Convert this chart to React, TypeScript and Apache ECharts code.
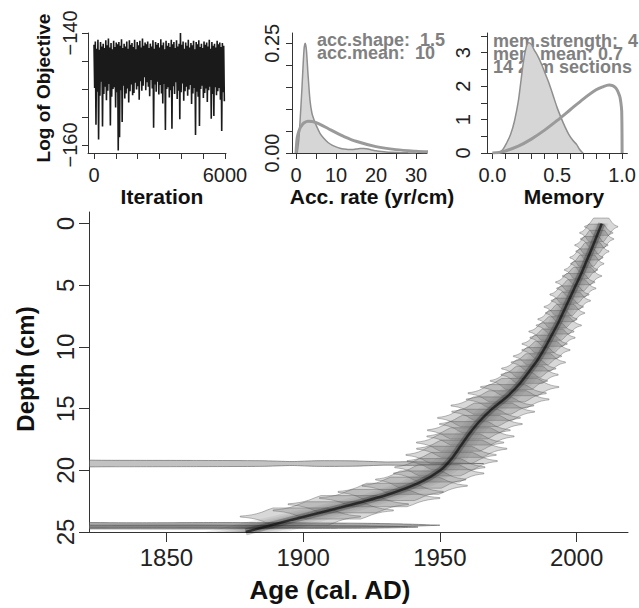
import React, { useEffect, useRef } from "react";
import * as echarts from "echarts";

// ---------- Panel 1: MCMC trace (log of objective), one value every 30 iterations ----------
const traceStep = 30;
const traceValues = [
  -142.1, -149.8, -141.5, -156.4, -142.8, -150.5, -141.2, -159.0, -143.0, -151.2,
  -141.6, -148.7, -142.4, -156.7, -141.9, -150.9, -142.7, -149.6, -141.3, -152.0,
  -142.2, -150.3, -141.0, -149.1, -142.6, -156.5, -141.8, -151.4, -142.9, -150.0,
  -141.4, -149.7, -142.5, -153.3, -141.7, -150.6, -142.0, -161.0, -141.6, -158.6,
  -142.3, -150.2, -141.1, -155.9, -142.7, -149.4, -141.9, -151.7, -142.4, -150.8,
  -141.5, -149.9, -142.8, -152.4, -141.3, -150.4, -142.1, -149.2, -141.8, -151.1,
  -142.5, -150.7, -141.2, -148.9, -142.9, -150.1, -141.6, -149.5, -142.2, -151.9,
  -141.4, -148.6, -142.6, -150.3, -141.0, -149.4, -142.3, -147.9, -141.7, -150.2,
  -142.0, -148.8, -141.5, -149.6, -142.7, -151.3, -141.9, -148.4, -142.4, -149.9,
  -141.3, -156.9, -142.8, -149.2, -141.6, -150.5, -142.1, -148.7, -141.8, -151.0,
  -142.6, -149.3, -141.1, -150.8, -142.2, -152.6, -141.7, -149.1, -142.9, -157.3,
  -141.4, -150.0, -142.3, -149.7, -141.8, -151.5, -142.5, -150.2, -141.2, -157.1,
  -142.0, -149.5, -141.6, -150.9, -142.7, -148.8, -141.3, -151.8, -142.4, -150.3,
  -141.9, -155.4, -140.0, -150.6, -142.1, -149.0, -141.5, -152.1, -142.8, -150.4,
  -141.7, -149.6, -142.3, -151.2, -141.2, -150.1, -142.6, -149.3, -141.8, -152.7,
  -142.2, -150.8, -141.4, -149.8, -142.9, -158.2, -141.6, -150.5, -142.0, -151.4,
  -141.3, -156.6, -142.5, -150.0, -141.9, -149.4, -142.7, -151.6, -141.5, -150.7,
  -142.1, -149.9, -141.7, -152.3, -142.4, -150.2, -141.2, -149.6, -142.8, -155.3,
  -141.6, -150.9, -142.3, -154.8, -141.9, -149.7, -142.6, -151.1, -141.4, -150.4,
  -142.0, -149.8, -141.7, -151.9, -142.5, -157.5, -141.8, -150.6, -142.3, -152.2,
];
const traceXTicks = [0, 1000, 2000, 3000, 4000, 5000, 6000];
const traceXLabels = [0, 6000];
const traceYTicks = [-160, -155, -150, -145, -140];
const traceYLabels = [-160, -140];

// ---------- Panel 2: accumulation rate ----------
const accPostX = [0.3, 0.7, 1, 1.5, 2, 2.3, 2.6, 3, 3.5, 4, 4.5, 5, 6, 7, 8, 9, 10, 11, 12, 13, 14, 15, 16, 17, 18, 19, 20, 22, 24, 26, 28, 30];
const accPostY = [0, 0.03, 0.07, 0.15, 0.235, 0.25, 0.235, 0.18, 0.12, 0.09, 0.076, 0.064, 0.045, 0.033, 0.024, 0.018, 0.014, 0.011, 0.009, 0.008, 0.008, 0.009, 0.01, 0.01, 0.009, 0.007, 0.005, 0.003, 0.0015, 0.0008, 0.0003, 0];
const accPriorX = [0, 0.25, 0.5, 1, 1.5, 2, 3, 4, 5, 6, 8, 10, 12, 15, 20, 25, 30, 33];
const accPriorY = [0, 0.031, 0.043, 0.0564, 0.0638, 0.0687, 0.0724, 0.072, 0.0692, 0.0653, 0.0559, 0.0463, 0.0375, 0.0268, 0.0146, 0.0077, 0.004, 0.0027];
const accXTicks = [0, 5, 10, 15, 20, 25, 30];
const accXLabels = [0, 10, 20, 30];
const accYTicks = [0, 0.05, 0.1, 0.15, 0.2, 0.25];
const accYLabels = [0, 0.25];
const accShape = 1.5;
const accMean = 10;

// ---------- Panel 3: memory ----------
const memPostX = [0.05, 0.08, 0.11, 0.14, 0.17, 0.2, 0.22, 0.24, 0.26, 0.28, 0.3, 0.32, 0.35, 0.38, 0.41, 0.44, 0.47, 0.5, 0.53, 0.56, 0.59, 0.62, 0.65, 0.67, 0.69, 0.7];
const memPostY = [0, 0.1, 0.3, 0.55, 0.95, 1.55, 2.15, 2.75, 3.15, 3.3, 3.25, 3.1, 2.9, 2.65, 2.35, 2.05, 1.7, 1.35, 1.05, 0.78, 0.55, 0.38, 0.25, 0.12, 0.03, 0];
const memPriorX = [0, 0.05, 0.1, 0.2, 0.3, 0.4, 0.5, 0.6, 0.7, 0.8, 0.85, 0.9, 0.95, 0.98, 0.99, 0.997, 1.0];
const memPriorY = [0, 0.018, 0.06, 0.206, 0.416, 0.676, 0.974, 1.294, 1.613, 1.89, 1.98, 2.034, 1.952, 1.718, 1.523, 1.25, 0];
const memXTicks = [0, 0.1, 0.2, 0.3, 0.4, 0.5, 0.6, 0.7, 0.8, 0.9, 1.0];
const memXLabels = [0, 0.5, 1.0];
const memYTicks = [0, 0.5, 1, 1.5, 2, 2.5, 3, 3.5];
const memYLabels = [0, 1, 2, 3];
const memStrength = 4;
const memMean = 0.7;
const sections = 14;
const sectionThick = 2;

// ---------- Main panel: age-depth model ----------
const modelDepth = [0, 1, 2, 3, 4, 5, 6, 7, 8, 9, 10, 11, 12, 13, 14, 15, 16, 17, 18, 19, 20, 21, 22, 23, 24, 25];
const modelMean = [2009.2, 2007.4, 2005.6, 2003.7, 2001.8, 1999.7, 1997.6, 1995.5, 1993.4, 1991.0, 1988.6, 1985.9, 1982.6, 1979.1, 1974.7, 1969.2, 1964.6, 1960.9, 1957.7, 1954.5, 1950.2, 1942.5, 1930.5, 1914.0, 1896.0, 1879.0];
const modelSpread = [2.5, 2.6, 2.7, 2.8, 3.0, 3.2, 3.4, 3.6, 3.8, 4.0, 4.2, 4.4, 4.6, 4.8, 5.0, 5.2, 5.2, 5.2, 5.4, 5.8, 6.5, 7.5, 9.0, 11.0, 13.0, 15.0];

const dateDepth = [0.25, 0.75, 1.25, 1.75, 2.25, 2.75, 3.25, 3.75, 4.25, 4.75, 5.25, 5.75, 6.25, 6.75, 7.25, 7.75, 8.25, 8.75, 9.25, 9.75, 10.25, 10.75, 11.25, 11.75, 12.25, 12.75, 13.25, 13.75, 14.25, 14.75, 15.25, 15.75, 16.25, 16.75, 17.25, 17.75, 18.25, 18.75, 19.25, 19.75, 20.25, 20.75, 21.25, 21.75, 22.25, 22.75, 23.25, 23.75];
const dateAge = [2009.0, 2007.2, 2007.5, 2005.4, 2005.8, 2003.6, 2003.9, 2001.6, 2002.0, 1999.5, 1999.9, 1997.4, 1997.9, 1995.3, 1995.8, 1993.0, 1993.5, 1990.8, 1991.2, 1988.3, 1988.8, 1985.7, 1986.0, 1982.5, 1982.8, 1978.9, 1979.2, 1974.6, 1974.8, 1969.2, 1969.5, 1964.3, 1965.0, 1960.6, 1961.2, 1957.4, 1958.0, 1954.1, 1954.5, 1950.0, 1949.6, 1943.0, 1940.8, 1932.0, 1928.0, 1916.5, 1911.0, 1899.0];
const dateSd = [2.2, 2.2, 2.2, 2.2, 2.2, 2.2, 2.2, 2.2, 2.6, 2.6, 2.6, 2.6, 2.6, 2.6, 2.6, 2.6, 3.0, 3.0, 3.0, 3.0, 3.2, 3.2, 3.6, 3.6, 3.8, 3.8, 5.2, 5.2, 5.5, 5.5, 5.5, 5.5, 5.5, 5.5, 5.8, 5.8, 6.0, 6.0, 6.0, 6.0, 6.0, 6.0, 7.0, 7.0, 8.0, 8.0, 8.0, 8.0];

// long, flat date distributions (outliers) drawn as bands
const band19Depth = 19.45;
const band19Ages = [1790, 1830, 1860, 1885, 1896, 1905, 1918, 1930, 1940, 1950, 1958, 1966];
const band19Half = [0.26, 0.26, 0.25, 0.23, 0.16, 0.23, 0.22, 0.13, 0.15, 0.08, 0.03, 0.0];
const band24aDepth = 24.45;
const band24aAges = [1790, 1840, 1870, 1890, 1910, 1925, 1940, 1950];
const band24aHalf = [0.2, 0.2, 0.22, 0.2, 0.18, 0.15, 0.08, 0.0];
const band24bDepth = 24.6;
const band24bAges = [1790, 1830, 1860, 1880, 1900, 1920, 1935, 1942];
const band24bHalf = [0.12, 0.15, 0.16, 0.14, 0.12, 0.1, 0.05, 0.0];

const mainXTicks = [1850, 1900, 1950, 2000];
const mainYTicks = [0, 5, 10, 15, 20, 25];

// ---------- styling ----------
const FONT = "'Liberation Sans', Arial, Helvetica, sans-serif";
const AX = "#333";
const GRAYTXT = "#808080";

function valueAxis(grid: number, min: number, max: number, ticks: number[], labels: number[], opts: any = {}) {
  return {
    type: "value",
    gridIndex: grid,
    min,
    max,
    inverse: !!opts.inverse,
    axisLine: { show: true, onZero: false, lineStyle: { color: AX, width: 1 } },
    axisTick: { show: true, length: opts.tickLen ?? 6, customValues: ticks, lineStyle: { color: AX, width: 1 } },
    axisLabel: {
      show: true,
      customValues: labels,
      fontSize: opts.fontSize ?? 20,
      fontFamily: FONT,
      color: "#222",
      margin: opts.margin ?? 10,
      rotate: opts.rotate ?? 0,
      formatter: opts.formatter ?? ((v: number) => String(v)),
    },
    splitLine: { show: false },
  };
}

const minusFmt = (v: number) => (v < 0 ? "\u2212" + Math.abs(v) : String(v));

function bandPolygon(api: any, depth: number, ages: number[], half: number[]) {
  const top = ages.map((a, i) => api.coord([a, depth - half[i]]));
  const bottom = ages.map((a, i) => api.coord([a, depth + half[i]])).reverse();
  return top.concat(bottom);
}

const dateHalfHeight = 0.7;

export default function App() {
  const ref = useRef<HTMLDivElement>(null);

  useEffect(() => {
    if (!ref.current) return;
    const chart = echarts.init(ref.current, undefined, { renderer: "svg" });

    const bands = [
      { depth: band19Depth, ages: band19Ages, half: band19Half, fill: "rgba(120,120,120,0.45)" },
      { depth: band24aDepth, ages: band24aAges, half: band24aHalf, fill: "rgba(100,100,100,0.55)" },
      { depth: band24bDepth, ages: band24bAges, half: band24bHalf, fill: "rgba(100,100,100,0.55)" },
    ];

    const option: any = {
      animation: false,
      grid: [
        { left: 88, top: 33, width: 138, height: 120 },
        { left: 292, top: 33, width: 135, height: 120 },
        { left: 487, top: 33, width: 141, height: 120 },
        { left: 89, top: 212, width: 539, height: 320 },
      ],
      xAxis: [
        valueAxis(0, -275, 6046, traceXTicks, traceXLabels, { margin: 12 }),
        valueAxis(1, -1, 32.75, accXTicks, accXLabels, { margin: 12 }),
        valueAxis(2, -0.0415, 1.041, memXTicks, memXLabels, { margin: 12, formatter: (v: number) => v.toFixed(1) }),
        valueAxis(3, 1821.7, 2018.8, mainXTicks, mainXTicks, { margin: 13, fontSize: 24, tickLen: 10 }),
      ],
      yAxis: [
        valueAxis(0, -161.43, -140, traceYTicks, traceYLabels, { rotate: 90, margin: 8, formatter: minusFmt }),
        valueAxis(1, 0, 0.2735, accYTicks, accYLabels, { rotate: 90, margin: 10, formatter: (v: number) => v.toFixed(2) }),
        valueAxis(2, 0, 3.59, memYTicks, memYLabels, { rotate: 90, margin: 14 }),
        valueAxis(3, -0.94, 25, mainYTicks, mainYTicks, { rotate: 90, inverse: true, margin: 12, fontSize: 24, tickLen: 10 }),
      ],
      series: [
        // MCMC trace drawn as one polyline through every stored iteration
        {
          type: "custom",
          xAxisIndex: 0,
          yAxisIndex: 0,
          clip: true,
          data: [[0, traceValues[0]]],
          renderItem: (params: any, api: any) => ({
            type: "polyline",
            shape: { points: traceValues.map((v, i) => api.coord([i * traceStep, v])) },
            style: { stroke: "#1a1a1a", lineWidth: 1.6, fill: "none", lineJoin: "bevel" },
          }),
        },
        {
          type: "line",
          xAxisIndex: 1,
          yAxisIndex: 1,
          data: accPostX.map((x, i) => [x, accPostY[i]]),
          symbol: "none",
          smooth: 0.25,
          lineStyle: { color: "#8f8f8f", width: 1.5 },
          areaStyle: { color: "#d6d6d6", opacity: 1 },
        },
        {
          type: "line",
          xAxisIndex: 1,
          yAxisIndex: 1,
          data: accPriorX.map((x, i) => [x, accPriorY[i]]),
          symbol: "none",
          smooth: 0.3,
          lineStyle: { color: "#9a9a9a", width: 3 },
        },
        {
          type: "line",
          xAxisIndex: 2,
          yAxisIndex: 2,
          data: memPostX.map((x, i) => [x, memPostY[i]]),
          symbol: "none",
          smooth: 0.3,
          lineStyle: { color: "#8f8f8f", width: 1.5 },
          areaStyle: { color: "#d6d6d6", opacity: 1 },
        },
        {
          type: "line",
          xAxisIndex: 2,
          yAxisIndex: 2,
          data: memPriorX.map((x, i) => [x, memPriorY[i]]),
          symbol: "none",
          smooth: 0.3,
          lineStyle: { color: "#9a9a9a", width: 3 },
        },
        // outlier bands
        {
          type: "custom",
          xAxisIndex: 3,
          yAxisIndex: 3,
          clip: true,
          data: bands.map((b, i) => [b.ages[0], b.depth, i]),
          renderItem: (params: any, api: any) => {
            const b = bands[api.value(2)];
            return {
              type: "polygon",
              shape: { points: bandPolygon(api, b.depth, b.ages, b.half), smooth: 0.2 },
              style: { fill: b.fill, stroke: "rgba(80,80,80,0.7)", lineWidth: 0.8 },
            };
          },
        },
        // model grey-scale envelope
        {
          type: "custom",
          xAxisIndex: 3,
          yAxisIndex: 3,
          clip: true,
          data: [[modelMean[0], modelDepth[0]]],
          renderItem: (params: any, api: any) => {
            const factors = [1, 0.75, 0.55, 0.38, 0.24, 0.12];
            const children = factors.map((f) => {
              const left = modelDepth.map((d, i) => api.coord([modelMean[i] - modelSpread[i] * f, d]));
              const right = modelDepth.map((d, i) => api.coord([modelMean[i] + modelSpread[i] * f, d])).reverse();
              return {
                type: "polygon",
                shape: { points: left.concat(right) },
                style: { fill: "rgba(0,0,0,0.07)" },
              };
            });
            return { type: "group", children };
          },
        },
        // dated samples (calibrated distributions)
        {
          type: "custom",
          xAxisIndex: 3,
          yAxisIndex: 3,
          clip: true,
          data: dateDepth.map((d, i) => [dateAge[i], d, dateSd[i]]),
          renderItem: (params: any, api: any) => {
            const age = api.value(0);
            const depth = api.value(1);
            const sd = api.value(2);
            const top: number[][] = [];
            const bottom: number[][] = [];
            for (let k = -11; k <= 11; k++) {
              const z = k / 4;
              const h = dateHalfHeight * Math.min(1, 2.4 * Math.exp(-(z * z) / 2));
              top.push(api.coord([age + z * sd, depth - h]));
              bottom.push(api.coord([age + z * sd, depth + h]));
            }
            return {
              type: "polygon",
              shape: { points: top.concat(bottom.reverse()) },
              style: { fill: "rgba(115,115,115,0.28)", stroke: "rgba(85,85,85,0.5)", lineWidth: 0.8 },
            };
          },
        },
        {
          type: "line",
          xAxisIndex: 3,
          yAxisIndex: 3,
          data: modelMean.map((a, i) => [a, modelDepth[i]]),
          symbol: "none",
          smooth: 0.3,
          lineStyle: { color: "rgba(0,0,0,0.22)", width: 7 },
        },
        {
          type: "line",
          xAxisIndex: 3,
          yAxisIndex: 3,
          data: modelMean.map((a, i) => [a, modelDepth[i]]),
          symbol: "none",
          smooth: 0.3,
          lineStyle: { color: "rgba(15,15,15,0.7)", width: 2.5 },
        },
      ],
      graphic: [
        { type: "text", x: 43, y: 88, rotation: Math.PI / 2, style: { text: "Log of Objective", font: `bold 19px ${FONT}`, fill: "#111", textAlign: "center", textVerticalAlign: "middle" } },
        { type: "text", x: 162, y: 196, style: { text: "Iteration", font: `bold 21px ${FONT}`, fill: "#111", textAlign: "center", textVerticalAlign: "middle" } },
        { type: "text", x: 372, y: 196, style: { text: "Acc. rate (yr/cm)", font: `bold 21px ${FONT}`, fill: "#111", textAlign: "center", textVerticalAlign: "middle" } },
        { type: "text", x: 564, y: 196, style: { text: "Memory", font: `bold 21px ${FONT}`, fill: "#111", textAlign: "center", textVerticalAlign: "middle" } },
        { type: "text", x: 317, y: 40, style: { text: `acc.shape:  ${accShape}`, font: `bold 18px ${FONT}`, fill: GRAYTXT, textAlign: "left", textVerticalAlign: "middle" } },
        { type: "text", x: 317, y: 53, style: { text: `acc.mean:  ${accMean}`, font: `bold 18px ${FONT}`, fill: GRAYTXT, textAlign: "left", textVerticalAlign: "middle" } },
        { type: "text", x: 493, y: 40.5, style: { text: `mem.strength:  ${memStrength}`, font: `bold 18px ${FONT}`, fill: GRAYTXT, textAlign: "left", textVerticalAlign: "middle" } },
        { type: "text", x: 493, y: 53.5, style: { text: `mem.mean: ${memMean}`, font: `bold 18px ${FONT}`, fill: GRAYTXT, textAlign: "left", textVerticalAlign: "middle" } },
        { type: "text", x: 493, y: 66.5, style: { text: `${sections} ${sectionThick}cm sections`, font: `bold 18px ${FONT}`, fill: GRAYTXT, textAlign: "left", textVerticalAlign: "middle" } },
        { type: "text", x: 25, y: 369, rotation: Math.PI / 2, style: { text: "Depth (cm)", font: `bold 24px ${FONT}`, fill: "#111", textAlign: "center", textVerticalAlign: "middle" } },
        { type: "text", x: 330, y: 590, style: { text: "Age (cal. AD)", font: `bold 26px ${FONT}`, fill: "#111", textAlign: "center", textVerticalAlign: "middle" } },
      ],
    };

    chart.setOption(option);
    return () => chart.dispose();
  }, []);

  return <div ref={ref} style={{ position: "fixed", left: 0, top: 0, width: 639, height: 608, background: "#fff" }} />;
}
